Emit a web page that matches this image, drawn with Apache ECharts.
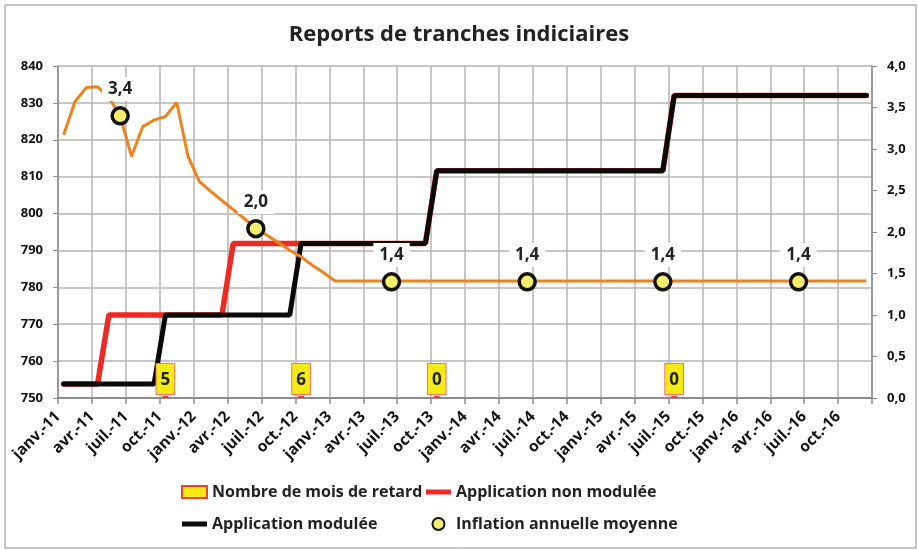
<!DOCTYPE html>
<html>
<head>
<meta charset="utf-8">
<script src="https://cdn.jsdelivr.net/npm/echarts@6/dist/echarts.min.js"></script>
<style>
  html, body { margin: 0; padding: 0; background: #fff; }
  #chart { width: 918px; height: 550px; }
</style>
</head>
<body>
<div id="chart"></div>
<script>
// étiquettes trimestrielles de l'axe des dates (janv.-11 -> janv.-17)
var tickLabels = ['janv.-11', 'avr.-11', 'juil.-11', 'oct.-11',
  'janv.-12', 'avr.-12', 'juil.-12', 'oct.-12',
  'janv.-13', 'avr.-13', 'juil.-13', 'oct.-13',
  'janv.-14', 'avr.-14', 'juil.-14', 'oct.-14',
  'janv.-15', 'avr.-15', 'juil.-15', 'oct.-15',
  'janv.-16', 'avr.-16', 'juil.-16', 'oct.-16', ''];

// valeurs mensuelles (janv. 2011 à déc. 2016)
var nonModulee = [
  753.8, 753.8, 753.8, 753.8, 772.5, 772.5, 772.5, 772.5, 772.5, 772.5, 772.5, 772.5,
  772.5, 772.5, 772.5, 791.9, 791.9, 791.9, 791.9, 791.9, 791.9, 791.9, 791.9, 791.9,
  791.9, 791.9, 791.9, 791.9, 791.9, 791.9, 791.9, 791.9, 791.9, 811.6, 811.6, 811.6,
  811.6, 811.6, 811.6, 811.6, 811.6, 811.6, 811.6, 811.6, 811.6, 811.6, 811.6, 811.6,
  811.6, 811.6, 811.6, 811.6, 811.6, 811.6, 832.0, 832.0, 832.0, 832.0, 832.0, 832.0,
  832.0, 832.0, 832.0, 832.0, 832.0, 832.0, 832.0, 832.0, 832.0, 832.0, 832.0, 832.0];
var modulee = [
  753.8, 753.8, 753.8, 753.8, 753.8, 753.8, 753.8, 753.8, 753.8, 772.5, 772.5, 772.5,
  772.5, 772.5, 772.5, 772.5, 772.5, 772.5, 772.5, 772.5, 772.5, 791.9, 791.9, 791.9,
  791.9, 791.9, 791.9, 791.9, 791.9, 791.9, 791.9, 791.9, 791.9, 811.6, 811.6, 811.6,
  811.6, 811.6, 811.6, 811.6, 811.6, 811.6, 811.6, 811.6, 811.6, 811.6, 811.6, 811.6,
  811.6, 811.6, 811.6, 811.6, 811.6, 811.6, 832.0, 832.0, 832.0, 832.0, 832.0, 832.0,
  832.0, 832.0, 832.0, 832.0, 832.0, 832.0, 832.0, 832.0, 832.0, 832.0, 832.0, 832.0];
// inflation en glissement (axe de droite)
var inflationMensuelle = [
  3.17, 3.57, 3.74, 3.75, 3.62, 3.40, 2.91, 3.27, 3.35, 3.39, 3.56, 2.91,
  2.61, 2.49, 2.38, 2.27, 2.16, 2.04, 1.96, 1.87, 1.78, 1.70, 1.60, 1.51,
  1.41, 1.41, 1.41, 1.41, 1.41, 1.41, 1.41, 1.41, 1.41, 1.41, 1.41, 1.41,
  1.41, 1.41, 1.41, 1.41, 1.41, 1.41, 1.41, 1.41, 1.41, 1.41, 1.41, 1.41,
  1.41, 1.41, 1.41, 1.41, 1.41, 1.41, 1.41, 1.41, 1.41, 1.41, 1.41, 1.41,
  1.41, 1.41, 1.41, 1.41, 1.41, 1.41, 1.41, 1.41, 1.41, 1.41, 1.41, 1.41];
// inflation annuelle moyenne (placée en juin)
var inflationMois = [5, 17, 29, 41, 53, 65];
var inflationAnnuelle = [3.4, 2.04, 1.4, 1.4, 1.4, 1.4];
// nombre de mois de retard
var retardMois = [9, 21, 33, 54];
var retardValeurs = [5, 6, 0, 0];

function pts(arr) {
  return arr.map(function (v, i) { return [i + 0.5, v]; });
}
function virgule(v) {
  return v.toFixed(1).replace('.', ',');
}

var police = 'Open Sans';
var gris = '#b4b4b4';
var trait = 'path://M0,0 L25,0 L25,5 L0,5 Z';

var myChart = echarts.init(document.getElementById('chart'));
var option = {
  animation: false,
  textStyle: { fontFamily: police },
  title: {
    text: 'Reports de tranches indiciaires',
    left: 'center',
    top: 19,
    textStyle: { fontSize: 22, fontWeight: 'bold', color: '#222', fontFamily: police }
  },
  graphic: [{
    type: 'rect',
    shape: { x: 5, y: 5, width: 911, height: 543 },
    style: { fill: 'none', stroke: '#8c8c8c', lineWidth: 1 },
    silent: true
  }],
  legend: [
    {
      left: 176, top: 479, orient: 'vertical', itemGap: 16,
      itemWidth: 25, itemHeight: 12,
      textStyle: { fontSize: 16, fontWeight: 'bold', color: '#222', fontFamily: police },
      data: [
        { name: 'Nombre de mois de retard', icon: 'rect' },
        { name: 'Application modulée', icon: trait }
      ]
    },
    {
      left: 421, top: 479, orient: 'vertical', itemGap: 16,
      itemWidth: 25, itemHeight: 12,
      textStyle: { fontSize: 16, fontWeight: 'bold', color: '#222', fontFamily: police },
      data: [
        { name: 'Application non modulée', icon: trait },
        { name: 'Inflation annuelle moyenne', icon: 'circle' }
      ]
    }
  ],
  grid: { left: 58, right: 46, top: 66, bottom: 152 },
  xAxis: {
    type: 'value',
    min: 0,
    max: 72,
    interval: 3,
    axisLine: { show: true, lineStyle: { color: '#8c8c8c', width: 2 } },
    axisTick: { show: true, length: 6, lineStyle: { color: '#8c8c8c', width: 1.5 } },
    splitLine: { show: true, lineStyle: { color: gris, width: 1.5 } },
    axisLabel: {
      rotate: 45,
      margin: 16,
      fontSize: 15.5,
      fontWeight: 'bold',
      color: '#111',
      formatter: function (v) { return tickLabels[Math.round(v / 3)]; }
    }
  },
  yAxis: [
    {
      type: 'value',
      min: 750,
      max: 840,
      interval: 10,
      axisLine: { show: true, lineStyle: { color: '#8c8c8c', width: 1.5 } },
      axisTick: { show: true, length: 5, lineStyle: { color: '#8c8c8c' } },
      splitLine: { show: true, lineStyle: { color: gris, width: 1.5 } },
      axisLabel: { margin: 15, fontSize: 13, fontWeight: 'bold', color: '#111' }
    },
    {
      type: 'value',
      min: 0,
      max: 4,
      interval: 0.5,
      position: 'right',
      axisLine: { show: true, lineStyle: { color: '#8c8c8c', width: 1.5 } },
      axisTick: { show: true, length: 5, lineStyle: { color: '#8c8c8c' } },
      splitLine: { show: false },
      axisLabel: { margin: 15, fontSize: 13, fontWeight: 'bold', color: '#111', formatter: virgule }
    },
    {
      type: 'value', min: 0, max: 1000, show: false
    }
  ],
  series: [
    {
      name: 'Application non modulée',
      type: 'line',
      yAxisIndex: 0,
      data: pts(nonModulee),
      symbol: 'none',
      color: '#ee2a24',
      itemStyle: { color: '#ee2a24' },
      lineStyle: { width: 5.5, color: '#ee2a24', cap: 'round' },
      z: 3
    },
    {
      name: 'Application modulée',
      type: 'line',
      yAxisIndex: 0,
      data: pts(modulee),
      symbol: 'none',
      color: '#0a0a0a',
      itemStyle: { color: '#0a0a0a' },
      lineStyle: { width: 5, color: '#0a0a0a', cap: 'round' },
      z: 4
    },
    {
      name: 'Inflation',
      type: 'line',
      yAxisIndex: 1,
      data: pts(inflationMensuelle),
      symbol: 'none',
      color: '#f0821e',
      lineStyle: { width: 3, color: '#f0821e' },
      z: 5
    },
    {
      name: 'Inflation annuelle moyenne',
      type: 'scatter',
      yAxisIndex: 1,
      data: inflationMois.map(function (m, i) { return [m + 0.5, inflationAnnuelle[i]]; }),
      symbol: 'circle',
      symbolSize: 16,
      itemStyle: { color: '#f3ee6e', borderColor: '#111', borderWidth: 3.5, opacity: 1 },
      label: {
        show: true,
        position: 'top',
        distance: 5,
        fontSize: 17,
        fontWeight: 'bold',
        color: '#222',
        backgroundColor: '#fff',
        padding: [4, 6, 3, 6],
        formatter: function (p) { return virgule(p.value[1]); }
      },
      z: 6
    },
    {
      name: 'Nombre de mois de retard',
      type: 'bar',
      yAxisIndex: 2,
      data: retardMois.map(function (m, i) { return [m + 0.5, retardValeurs[i]]; }),
      barWidth: 8,
      barMinHeight: 2,
      itemStyle: { color: '#f5ea12', borderColor: '#f03c32', borderWidth: 2 },
      label: {
        show: true,
        position: 'top',
        distance: 2,
        fontSize: 17,
        fontWeight: 'bold',
        color: '#222',
        backgroundColor: '#f5ea12',
        borderColor: '#f07468',
        borderWidth: 1,
        padding: [8, 4, 5, 4],
        formatter: function (p) { return p.value[1]; }
      },
      z: 7
    }
  ]
};
myChart.setOption(option);
</script>
</body>
</html>
